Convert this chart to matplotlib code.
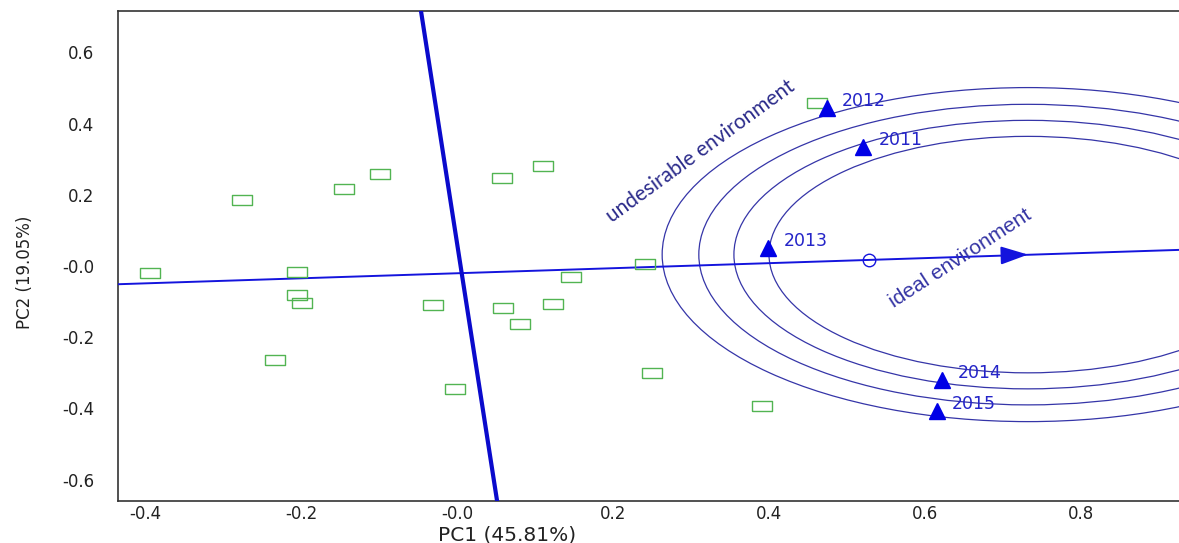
import numpy as np
import matplotlib
matplotlib.use('Agg')
import matplotlib.pyplot as plt
from matplotlib.patches import Circle

## genotype scores (PC1, PC2)
geno_pc1 = [-0.394, -0.276, -0.205, -0.205, -0.199, -0.233, -0.145, -0.099, -0.031, -0.003,
            0.058, 0.059, 0.081, 0.110, 0.123, 0.146, 0.241, 0.250, 0.391, 0.462]
geno_pc2 = [-0.020, 0.185, -0.017, -0.081, -0.104, -0.264, 0.216, 0.258, -0.110, -0.346,
            0.247, -0.118, -0.163, 0.281, -0.107, -0.031, 0.006, -0.301, -0.393, 0.458]

## environment scores
env_names = ['2011', '2012', '2013', '2014', '2015']
env_pc1 = [0.521, 0.474, 0.399, 0.622, 0.615]
env_pc2 = [0.334, 0.444, 0.051, -0.320, -0.407]

# average environment axis  y = aea_b + aea_m * x
aea_m = 0.0709
aea_b = -0.0204
avg_env = (0.528, 0.017)
ideal_env = (0.732, 0.032)
ring_radii = [0.332, 0.377, 0.422, 0.469]

xticks = [-0.4, -0.2, 0.0, 0.2, 0.4, 0.6, 0.8]
xtick_labels = ['-0.4', '-0.2', '-0.0', '0.2', '0.4', '0.6', '0.8']
yticks = [-0.6, -0.4, -0.2, 0.0, 0.2, 0.4, 0.6]
ytick_labels = ['-0.6', '-0.4', '-0.2', '-0.0', '0.2', '0.4', '0.6']

xlim = (-0.4346, 0.9256)
ylim = (-0.660, 0.716)

fig = plt.figure(figsize=(11.79, 5.43), dpi=100)
ax = fig.add_axes([0.1001, 0.0773, 0.8999, 0.9024])
ax.set_xlim(*xlim)
ax.set_ylim(*ylim)

# AEA line across the whole plot
xs = np.array(xlim)
ax.plot(xs, aea_b + aea_m * xs, color='#1414dd', lw=1.4, zorder=3)

# perpendicular (ATA) line through the crossing point
ys = np.array(ylim)
x_cross = 0.006
y_cross = aea_b + aea_m * x_cross
ax.plot(x_cross - aea_m * (ys - y_cross), ys, color='#0a0acc', lw=3.0, zorder=3)

# concentric rings round the ideal environment
for r in ring_radii:
    ax.add_patch(Circle(ideal_env, r, fill=False, ec='#3535a8', lw=0.9, zorder=2))

# arrow to the ideal environment
dx = 0.03
ax.annotate('', xy=ideal_env, xytext=(ideal_env[0] - dx, ideal_env[1] - aea_m * dx),
            arrowprops=dict(arrowstyle='-|>,head_length=1.2,head_width=0.4',
                            color='#1414dd', lw=1.4, mutation_scale=14, shrinkA=0, shrinkB=0),
            zorder=4)

ax.plot(*avg_env, marker='o', ms=9, mfc='none', mec='#1414dd', mew=1.0, zorder=4)

# genotypes
rect = [(-1, -0.5), (1, -0.5), (1, 0.5), (-1, 0.5), (-1, -0.5)]
ax.plot(geno_pc1, geno_pc2, ls='none', marker=rect, ms=14, mfc='none',
        mec='#52b452', mew=1.0, zorder=5)

# environments
ax.plot(env_pc1, env_pc2, ls='none', marker='^', ms=11, color='#0000e6', zorder=6)
for name, x, y in zip(env_names, env_pc1, env_pc2):
    ax.annotate(name, (x, y), xytext=(11, 5), textcoords='offset points',
                ha='left', va='center', color='#2424c8', fontsize=12.5,
                family='DejaVu Sans', zorder=7)

ax.text(0.312, 0.322, 'undesirable environment', rotation=36, rotation_mode='anchor',
        ha='center', va='center', color='#2a2a8a', fontsize=15, family='Lato')
ax.text(0.645, 0.022, 'ideal environment', rotation=33, rotation_mode='anchor',
        ha='center', va='center', color='#3434a4', fontsize=15, family='Liberation Sans')

ax.set_xticks(xticks)
ax.set_xticklabels(xtick_labels)
ax.set_yticks(yticks)
ax.set_yticklabels(ytick_labels)
ax.tick_params(axis='both', length=0, labelsize=12, colors='#222222')
ax.tick_params(axis='y', pad=17)
ax.tick_params(axis='x', pad=3)

for sp in ['left', 'bottom', 'top']:
    ax.spines[sp].set_color('#333333')
    ax.spines[sp].set_linewidth(1.2)
ax.spines['right'].set_visible(False)

ax.set_xlabel('PC1 (45.81%)', fontsize=14.5, color='#222222')
ax.xaxis.set_label_coords(0.367, -0.069)
ax.set_ylabel('PC2 (19.05%)', fontsize=12, color='#222222')
ax.yaxis.set_label_coords(-0.0877, 0.467)
ax.yaxis.label.set_va('center')
ax.xaxis.label.set_va('center')

fig.savefig('out.png', dpi=100)
